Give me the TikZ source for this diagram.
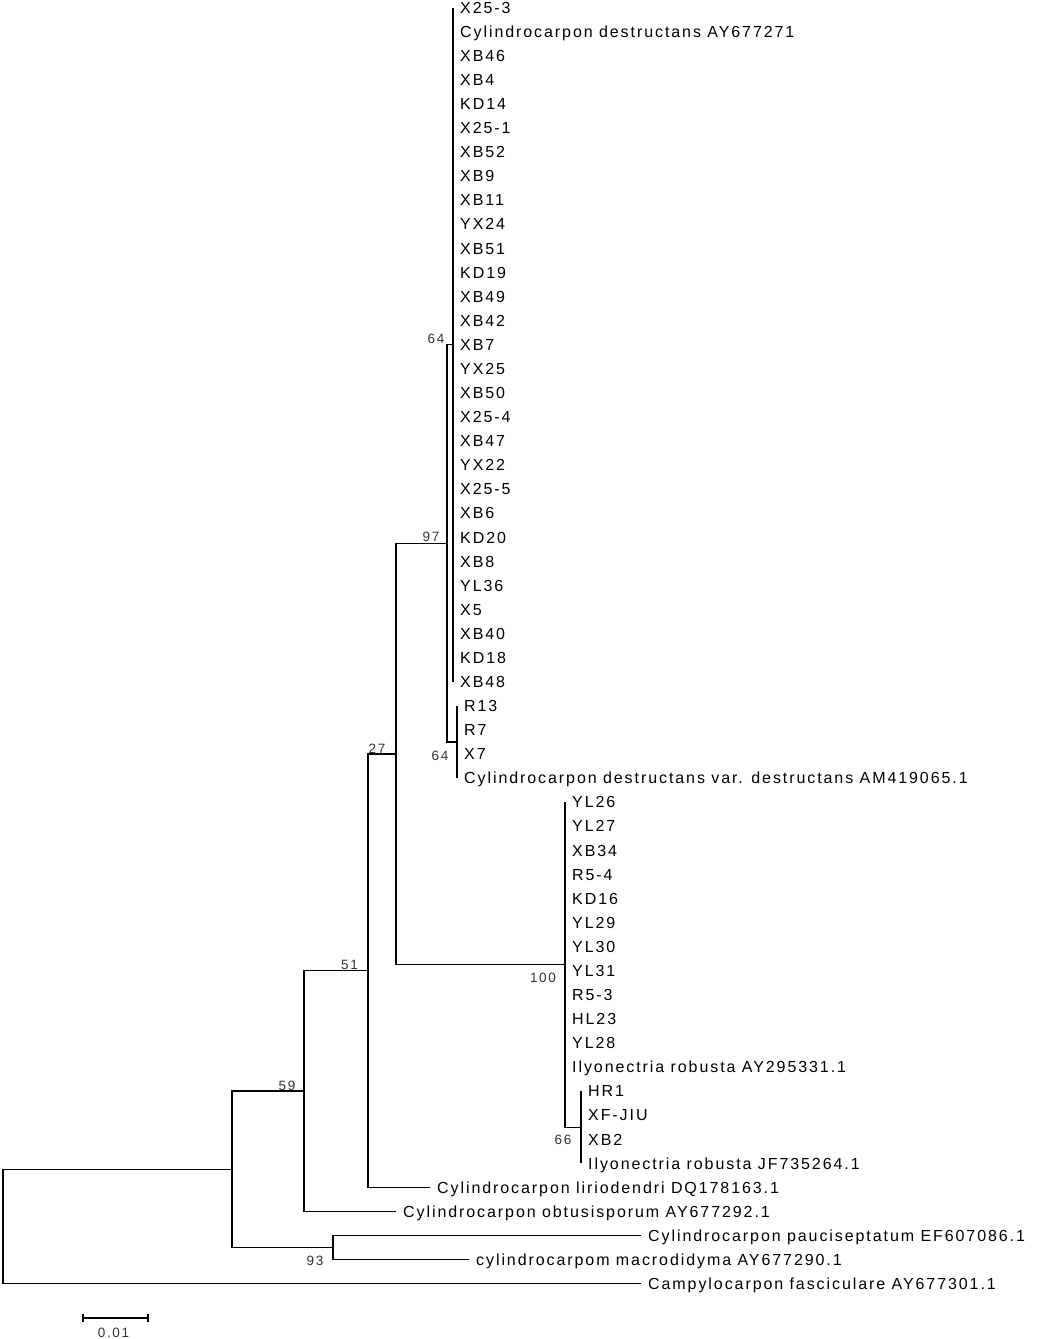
\documentclass[tikz,border=0pt]{standalone}
\usepackage{fontspec}
\setmainfont{Liberation Sans}[LetterSpace=12]
\begin{document}
\begin{tikzpicture}[x=1pt,y=-1pt,
  br/.style={line width=1.4pt, black},
  leaf/.style={anchor=west, inner xsep=7pt, inner ysep=0pt, text height=11.5pt, text depth=0pt, font=\fontsize{16pt}{18pt}\selectfont},
  boot/.style={inner sep=0pt, font=\fontsize{13.5pt}{15pt}\selectfont, text=black!80}]
\useasboundingbox (0,0) rectangle (1042,1339);
% leaves
\foreach \i/\xx/\t in {
 1/453/X25-3, 2/453/Cylindrocarpon destructans AY677271, 3/453/XB46, 4/453/XB4, 5/453/KD14,
 6/453/X25-1, 7/453/XB52, 8/453/XB9, 9/453/XB11, 10/453/YX24, 11/453/XB51, 12/453/KD19,
 13/453/XB49, 14/453/XB42, 15/453/XB7, 16/453/YX25, 17/453/XB50, 18/453/X25-4, 19/453/XB47,
 20/453/YX22, 21/453/X25-5, 22/453/XB6, 23/453/KD20, 24/453/XB8, 25/453/YL36, 26/453/X5,
 27/453/XB40, 28/453/KD18, 29/453/XB48,
 30/457/R13, 31/457/R7, 32/457/X7, 33/457/Cylindrocarpon destructans var. destructans AM419065.1,
 34/565/YL26, 35/565/YL27, 36/565/XB34, 37/565/R5-4, 38/565/KD16, 39/565/YL29, 40/565/YL30,
 41/565/YL31, 42/565/R5-3, 43/565/HL23, 44/565/YL28, 45/565/Ilyonectria robusta AY295331.1,
 46/581/HR1, 47/581/XF-JIU, 48/581/XB2, 49/581/Ilyonectria robusta JF735264.1,
 50/430/Cylindrocarpon liriodendri DQ178163.1,
 51/396/Cylindrocarpon obtusisporum AY677292.1,
 52/641/Cylindrocarpon pauciseptatum EF607086.1,
 53/469/cylindrocarpom macrodidyma AY677290.1,
 54/641/Campylocarpon fasciculare AY677301.1} {
  \pgfmathsetmacro\yy{7.5+24.08*(\i-1)}
  \node[leaf] (L\i) at (\xx,\yy) {\t};
}
% internal nodes
\coordinate (nTop) at (453,344.62);
\coordinate (nR)   at (457,741.94);
\coordinate (n97)  at (447,543.28);
\coordinate (nHR)  at (581,1127.22);
\coordinate (nYL)  at (565,964.68);
\coordinate (n27)  at (396,753.98);
\coordinate (n51)  at (368,970.70);
\coordinate (n59)  at (304,1091.10);
\coordinate (n93)  at (333,1247.62);
\coordinate (nA)   at (232,1169.36);
\coordinate (root) at (3,1226.55);
% branches
\foreach \i in {1,...,29} \draw[br] (nTop) |- (L\i.west);
\foreach \i in {30,...,33} \draw[br] (nR) |- (L\i.west);
\foreach \i in {34,...,45} \draw[br] (nYL) |- (L\i.west);
\foreach \i in {46,...,49} \draw[br] (nHR) |- (L\i.west);
\draw[br] (nYL) |- (nHR);
\draw[br] (n97) |- (nTop);
\draw[br] (n97) |- (nR);
\draw[br] (n27) |- (n97);
\draw[br] (n27) |- (nYL);
\draw[br] (n51) |- (n27);
\draw[br] (n51) |- (L50.west);
\draw[br] (n59) |- (n51);
\draw[br] (n59) |- (L51.west);
\draw[br] (nA) |- (n59);
\draw[br] (nA) |- (n93);
\draw[br] (n93) |- (L52.west);
\draw[br] (n93) |- (L53.west);
\draw[br] (root) |- (nA);
\draw[br] (root) |- (L54.west);
% bootstrap values
\node[boot] (b64a) at (436,339) {64};
\node[boot] (b97) at (431,537) {97};
\node[boot] (b64b) at (440,756) {64};
\node[boot] (b27) at (377,749) {27};
\node[boot] (b51) at (349.5,965) {51};
\node[boot] (b59) at (287,1086) {59};
\node[boot] (b100) at (543,978) {100};
\node[boot] (b66) at (563,1140) {66};
\node[boot] (b93) at (315,1261) {93};
% scale bar
\coordinate (s1) at (83,1318);
\coordinate (s2) at (148,1318);
\draw[br, line width=1.2pt] (s1) -- (s2);
\draw[br, line width=1.2pt] (s1) ++(0,-4) -- ++(0,8);
\draw[br, line width=1.2pt] (s2) ++(0,-4) -- ++(0,8);
\node[boot] (sbl) at (113.5,1333) {0.01};
\end{tikzpicture}
\end{document}
